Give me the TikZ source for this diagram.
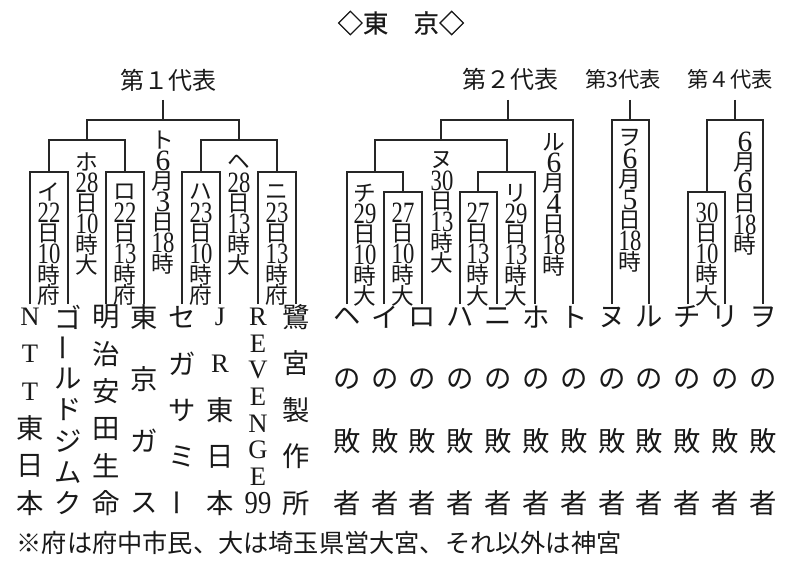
\documentclass[tikz,border=0pt]{standalone}
\usepackage{fontspec}
\usepackage{graphicx}
\setmainfont{Liberation Serif}
\newfontfamily\jp{Noto Sans CJK JP}
\newfontfamily\jpb[FakeBold=0.6]{Noto Sans CJK JP}
\newcommand\dg[1]{{\rmfamily\scalebox{1}[1.3]{#1}}}
\newcommand\sdg[1]{{\rmfamily\scalebox{1.3}[1.3]{#1}}}
\newcommand\lt[1]{{\rmfamily\fontsize{20}{20}\selectfont #1}}
\newcommand\chouon{\rotatebox{90}{ー}}
\newcommand\bcol[5]{\foreach \c [count=\i] in {#5}{\node[boxtxt] (#1-\i) at ({#2},{#3+(\i-1)*#4}) {\c};}}
\newcommand\tcol[4]{\foreach \c [count=\i] in {#4}{\node[team] (#1-\i) at ({#2},{317+(\i-1)*186/(#3-1)}) {\c};}}
\tikzset{
  bline/.style={draw=black!85, line width=0.8pt},
  boxtxt/.style={inner sep=0pt, text=black!90, font=\jp\fontsize{17}{17}\selectfont},
  team/.style={inner sep=0pt, text=black!90, font=\jp\fontsize{20.5}{20.5}\selectfont},
  replabel/.style={inner sep=0pt, text=black!90, font=\jp\fontsize{18}{18}\selectfont},
  replabelsmall/.style={inner sep=0pt, text=black!90, font=\jp\fontsize{16}{16}\selectfont},
  titletxt/.style={inner sep=0pt, text=black!90, font=\jpb\fontsize{19}{19}\selectfont},
  foot/.style={inner sep=0pt, text=black!90, font=\jp\fontsize{18.9}{18.9}\selectfont},
}
\begin{document}
\begin{tikzpicture}[x=0.75pt,y=-0.75pt]
\useasboundingbox (0,0) rectangle (798,563);
\fill[white] (0,0) rectangle (798,563);

% title and labels
\node[titletxt] (title) at (401,23) {◇東　京◇};
\node[replabel] (rep1) at (168,80) {第１代表};
\node[replabel] (rep2) at (510,79) {第２代表};
\node[replabelsmall] (rep3) at (623,79) {第3代表};
\node[replabelsmall] (rep4) at (730,79) {第４代表};

% winners bracket
\draw[bline] (163,100) -- (163,120);
\draw[bline] (87,140) -- (87,120) -- (239,120) -- (239,140);
\draw[bline] (49,172) -- (49,140) -- (125,140) -- (125,172);
\draw[bline] (201,172) -- (201,140) -- (277,140) -- (277,172);
\draw[bline] (30,304) -- (30,172) -- (68,172) -- (68,304);
\draw[bline] (106,304) -- (106,172) -- (144,172) -- (144,304);
\draw[bline] (182,304) -- (182,172) -- (220,172) -- (220,304);
\draw[bline] (258,304) -- (258,172) -- (296,172) -- (296,304);

% losers bracket
\draw[bline] (508,100) -- (508,120);
\draw[bline] (441,140) -- (441,120) -- (573,120) -- (573,304);
\draw[bline] (375,172) -- (375,140) -- (507,140) -- (507,172);
\draw[bline] (347,304) -- (347,172) -- (403,172) -- (403,192);
\draw[bline] (384,304) -- (384,192) -- (422,192) -- (422,304);
\draw[bline] (478,192) -- (478,172) -- (535,172) -- (535,304);
\draw[bline] (460,304) -- (460,192) -- (497,192) -- (497,304);
\draw[bline] (630,100) -- (630,120);
\draw[bline] (612,304) -- (612,120) -- (649,120) -- (649,304);
\draw[bline] (735,100) -- (735,120);
\draw[bline] (707,192) -- (707,120) -- (763,120) -- (763,304);
\draw[bline] (688,304) -- (688,192) -- (725,192) -- (725,304);

% match texts
\bcol{mI}{49}{192}{20.6}{イ,\dg{22},日,\dg{10},時,府}
\bcol{mHo}{87}{162}{20.6}{ホ,\dg{28},日,\dg{10},時,大}
\bcol{mRo}{125}{192}{20.6}{ロ,\dg{22},日,\dg{13},時,府}
\bcol{mTo}{163}{140}{20.6}{ト,\sdg{6},月,\sdg{3},日,\dg{18},時}
\bcol{mHa}{201}{192}{20.6}{ハ,\dg{23},日,\dg{10},時,府}
\bcol{mHe}{239}{162}{20.6}{ヘ,\dg{28},日,\dg{13},時,大}
\bcol{mNi}{277}{192}{20.6}{ニ,\dg{23},日,\dg{13},時,府}
\bcol{mChi}{365}{193}{20.6}{チ,\dg{29},日,\dg{10},時,大}
\bcol{mA}{403}{213}{20.6}{\dg{27},日,\dg{10},時,大}
\bcol{mNu}{442}{160}{20.6}{ヌ,\dg{30},日,\dg{13},時,大}
\bcol{mB}{478}{213}{20.6}{\dg{27},日,\dg{13},時,大}
\bcol{mRi}{516}{193}{20.6}{リ,\dg{29},日,\dg{13},時,大}
\bcol{mRu}{554}{142}{20.6}{ル,\sdg{6},月,\sdg{4},日,\dg{18},時}
\bcol{mWo}{630}{138}{20.6}{ヲ,\sdg{6},月,\sdg{5},日,\dg{18},時}
\bcol{mC}{707}{213}{20.6}{\dg{30},日,\dg{10},時,大}
\bcol{mD}{745}{142}{20.6}{\sdg{6},月,\sdg{6},日,\dg{18},時}

% teams
\tcol{t1}{30}{6}{\lt{N},\lt{T},\lt{T},東,日,本}
\tcol{t2}{68}{7}{ゴ,\chouon,ル,ド,ジ,ム,ク}
\tcol{t3}{106}{6}{明,治,安,田,生,命}
\tcol{t4}{144}{4}{東,京,ガ,ス}
\tcol{t5}{182}{5}{セ,ガ,サ,ミ,\chouon}
\tcol{t6}{220}{5}{\lt{J},\lt{R},東,日,本}
\tcol{t7}{258}{8}{\lt{R},\lt{E},\lt{V},\lt{E},\lt{N},\lt{G},\lt{E},\lt{\scalebox{1}[1.2]{99}}}
\tcol{t8}{296}{5}{鷺,宮,製,作,所}

% losers
\foreach \nm [count=\k] in {ヘ,イ,ロ,ハ,ニ,ホ,ト,ヌ,ル,チ,リ,ヲ}{
  \tcol{L\k}{347+(\k-1)*37.82}{4}{\nm,の,敗,者}
}

% footnote
\node[foot, anchor=west] (note) at (16.5,543) {※府は府中市民、大は埼玉県営大宮、それ以外は神宮};
\end{tikzpicture}
\end{document}
